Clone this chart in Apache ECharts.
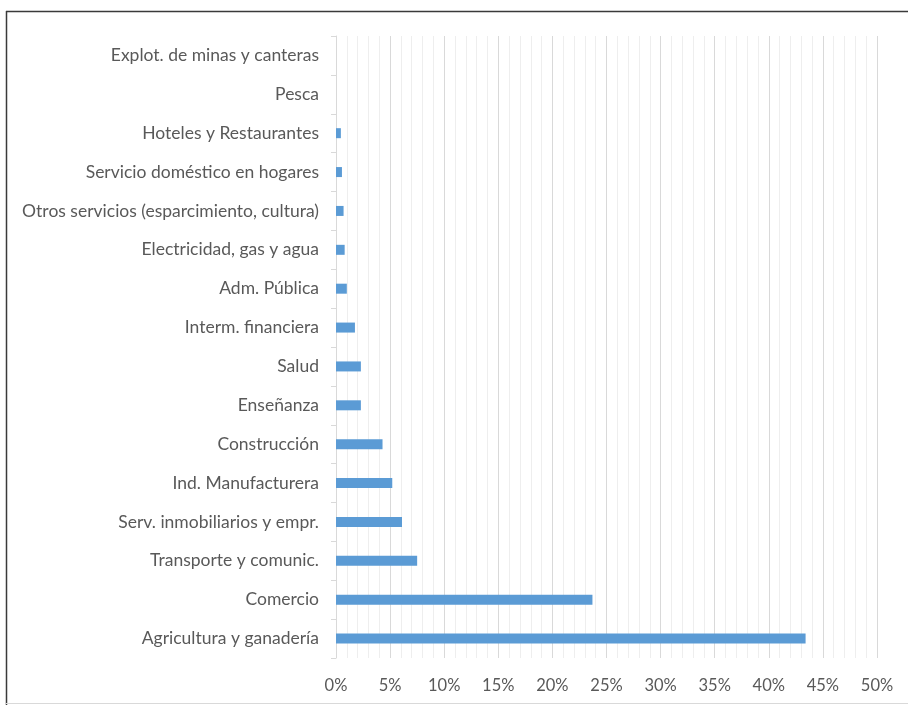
<!DOCTYPE html>
<html><head><meta charset="utf-8">
<script src="https://cdn.jsdelivr.net/npm/echarts@6/dist/echarts.min.js"></script>
<style>html,body{margin:0;padding:0;background:#fff}#c{width:908px;height:705px}</style>
</head><body><div id="c"></div>
<script>
const categories = ["Agricultura y ganadería","Comercio","Transporte y comunic.","Serv. inmobiliarios y empr.","Ind. Manufacturera","Construcción","Enseñanza","Salud","Interm. financiera","Adm. Pública","Electricidad, gas y agua","Otros servicios (esparcimiento, cultura)","Servicio doméstico en hogares","Hoteles y Restaurantes","Pesca","Explot. de minas y canteras"];
const values = [43.4, 23.7, 7.5, 6.1, 5.2, 4.3, 2.3, 2.3, 1.75, 1.0, 0.8, 0.7, 0.55, 0.45, 0, 0];
const xTicks = [0,5,10,15,20,25,30,35,40,45,50];

const chart = echarts.init(document.getElementById('c'));
chart.setOption({
  animation:false,
  graphic:[
    {type:'line',shape:{x1:6,y1:11.5,x2:908,y2:11.5},style:{stroke:'#3a3a3a',lineWidth:1.5}},
    {type:'line',shape:{x1:6.5,y1:11,x2:6.5,y2:705},style:{stroke:'#3a3a3a',lineWidth:1.5}},
    {type:'line',shape:{x1:6,y1:703.5,x2:908,y2:703.5},style:{stroke:'#d9d9d9',lineWidth:1}}
  ],
  grid:{left:336,right:31,top:36,bottom:47,containLabel:false},
  xAxis:{type:'value',min:0,max:50,interval:5,
    axisLine:{show:false},axisTick:{show:false},
    axisLabel:{formatter:v=>xTicks.includes(v)?v+'%':'',color:'#595959',fontFamily:'Lato',fontSize:16.5,margin:19},
    splitLine:{show:true,lineStyle:{color:'#d9d9d9',width:1}},
    minorTick:{show:false,splitNumber:5},
    minorSplitLine:{show:true,lineStyle:{color:'#eeeeee',width:1}}
  },
  yAxis:{type:'category',data:categories,
    axisLine:{show:true,lineStyle:{color:'#d9d9d9'}},
    axisTick:{show:true,length:5,lineStyle:{color:'#d9d9d9'}},
    axisLabel:{color:'#595959',fontFamily:'Lato',fontSize:17.5,margin:17}
  },
  series:[{type:'bar',data:values,barWidth:10,itemStyle:{color:'#5b9bd5'}}]
});
</script></body></html>
